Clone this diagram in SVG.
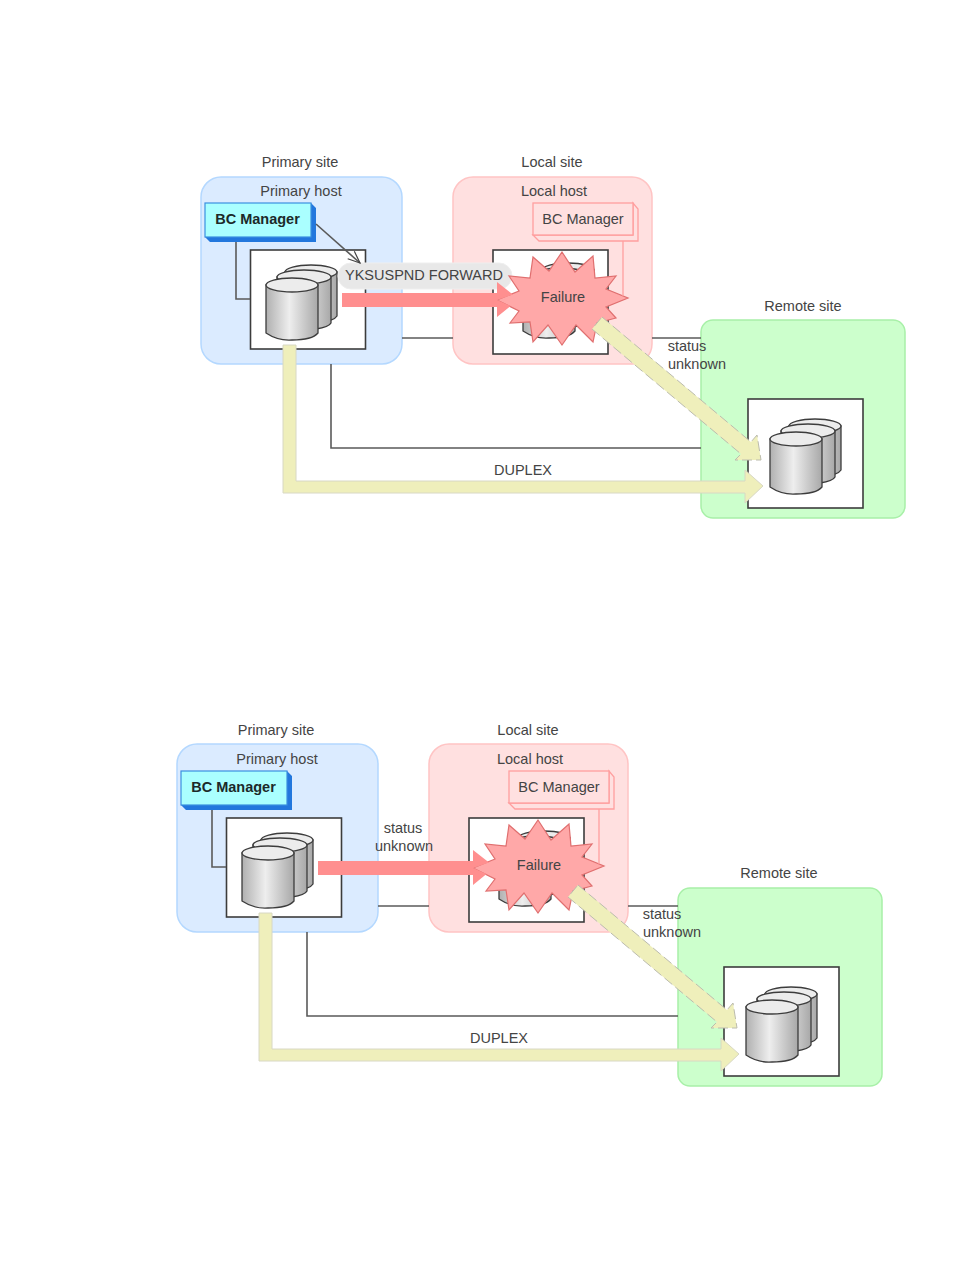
<svg xmlns="http://www.w3.org/2000/svg" width="954" height="1270" viewBox="0 0 954 1270">
  <style>
    text { font-family: "Liberation Sans", Arial, sans-serif; font-size: 14.5px; fill: #444; text-anchor: middle; }
    .bold { font-weight: bold; fill: #1c2a2a; }
    .primary-site { fill: #dbebff; stroke: #b4d8ff; stroke-width: 1.5; }
    .local-site { fill: #ffe0e0; stroke: #ffc4c4; stroke-width: 1.5; }
    .remote-site { fill: #ccffcc; stroke: #a8f0a8; stroke-width: 1.5; }
    .host { fill: #fff; stroke: #3c3c3c; stroke-width: 1.6; }
    .wire { fill: none; stroke: #5a5a5a; stroke-width: 1.6; }
    .pink-wire { fill: none; stroke: #ff9f9f; stroke-width: 1.3; }
    .pipe { fill: #efefbb; stroke: #d8d8c4; stroke-width: 1; }
    .pipe-lost { fill: #efefbb; stroke: #bcbcae; stroke-width: 1; stroke-dasharray: 10 4; }
    .suspended { fill: #ff8f8f; }
    .star { fill: #ffa8a8; stroke: #e06f6f; stroke-width: 1.2; }
    .pill { fill: #e8e8e8; stroke: #eeeeee; stroke-width: 1; }
    .can { fill: url(#canShade); stroke: #3c3c3c; stroke-width: 1.3; }
    .can-top { fill: #ececec; stroke: #3c3c3c; stroke-width: 1.3; }
    .bc-face { fill: #aaffff; stroke: #3a90e0; stroke-width: 1.2; }
    .bc-side { fill: #2277dd; }
    .bc-ghost { fill: #ffe0e0; stroke: #ff9f9f; stroke-width: 1.3; }
  </style>
  <defs>
    <linearGradient id="canShade" x1="0" x2="1" y1="0" y2="0">
      <stop offset="0" stop-color="#b0b0b0"/>
      <stop offset="0.45" stop-color="#eeeeee"/>
      <stop offset="1" stop-color="#a8a8a8"/>
    </linearGradient>
    <marker id="open" markerWidth="14" markerHeight="12" refX="13" refY="6" orient="auto" markerUnits="userSpaceOnUse">
      <path d="M1 1 L13 6 L1 11" fill="none" stroke="#444" stroke-width="1.2"/>
    </marker>
    <!-- Three stacked volumes, origin at the storage box corner -->
    <g id="volumes">
      <path class="can" d="M35 22 V65 Q48 73 70 72 Q84 71 87 66 V22 Z"/>
      <ellipse class="can-top" cx="61" cy="22" rx="26" ry="7"/>
      <path class="can" d="M27 27 V72 Q45 82 66 79 Q79 77 81 73 V27 Z"/>
      <ellipse class="can-top" cx="54" cy="27" rx="27" ry="7"/>
      <path class="can" d="M16 35 V83 Q28 91 42 90 Q62 90 68 83 V35 Z"/>
      <ellipse class="can-top" cx="42" cy="35" rx="26" ry="7"/>
    </g>
    <polygon id="burst" class="star" points="562,252 575,272 593,256 595,278 616,276 606,289 628,298 606,307 616,318 597,323 593,342 576,325 562,345 548,325 533,342 530,322 510,323 519,311 497,300 519,291 509,276 530,278 533,257 549,271"/>
  </defs>

  <g id="upper-scenario">
    <g id="primary-site-1">
      <rect class="primary-site" x="201" y="177" width="201" height="187" rx="20"/>
      <text x="300" y="167">Primary site</text>
      <text x="301" y="196">Primary host</text>
    </g>
    <g id="local-site-1">
      <rect class="local-site" x="453" y="177" width="199" height="187" rx="20"/>
      <text x="552" y="167">Local site</text>
      <text x="554" y="196">Local host</text>
    </g>
    <g id="remote-site-1">
      <rect class="remote-site" x="701" y="320" width="204" height="198" rx="12"/>
      <text x="803" y="311">Remote site</text>
    </g>
    <g id="primary-storage-1">
      <rect class="host" x="250.500" y="250" width="115" height="99"/>
      <use href="#volumes" x="250" y="250"/>
    </g>
    <g id="local-storage-1">
      <rect class="host" x="493" y="250" width="115" height="104"/>
      <use href="#volumes" x="507" y="248"/>
    </g>
    <g id="remote-storage-1">
      <rect class="host" x="748" y="399" width="115" height="109"/>
      <use href="#volumes" x="754" y="404"/>
    </g>
    <g id="bc-primary-1">
      <polygon class="bc-side" points="205,237 210,242 316,242 316,208 311,203 311,237"/>
      <rect class="bc-face" x="205" y="203" width="106" height="34"/>
      <text class="bold" x="257.500" y="224">BC Manager</text>
    </g>
    <g id="bc-local-1">
      <polygon class="bc-ghost" points="533,235 539,241 638,241 638,209 633,203 633,235"/>
      <rect class="bc-ghost" x="533" y="203" width="100" height="32"/>
      <text x="583" y="224">BC Manager</text>
    </g>
    <g id="forward-label">
      <rect class="pill" x="338" y="263" width="174" height="26" rx="13"/>
      <text x="424" y="279.500">YKSUSPND FORWARD</text>
    </g>
    <g id="failure-1">
      <use href="#burst"/>
      <text x="563" y="302">Failure</text>
    </g>
    <g id="connectors-1">
      <path class="wire" d="M236 242 V299 H250"/>
      <path class="wire" d="M316 224 L360 263" marker-end="url(#open)" stroke-width="1.1"/>
      <path class="wire" d="M402 338 H453"/>
      <path class="wire" d="M652 338 H701"/>
      <path class="wire" d="M331 364 V448 H701"/>
      <path class="pink-wire" d="M623 241 V296"/>
      <polygon class="suspended" points="342,293 497,293 497,282 513,294.600 497,300 510.500,306 497,317 497,307 342,307"/>
      <polygon class="pipe" points="283,345 296,345 296,481 745,481 745,470 763,486 745,503 745,493 283,493"/>
      <polygon class="pipe-lost" points="602,317 751,442 757,435 761,460 735,460 741,454 592,329"/>
    </g>
    <text x="523" y="475">DUPLEX</text>
    <text x="687" y="351">status</text>
    <text x="697" y="369">unknown</text>
  </g>

  <g id="lower-scenario" transform="translate(-24 568)">
    <g id="primary-site-2">
      <rect class="primary-site" x="201" y="176" width="201" height="188" rx="20"/>
      <text x="300" y="167">Primary site</text>
      <text x="301" y="196">Primary host</text>
    </g>
    <g id="local-site-2">
      <rect class="local-site" x="453" y="176" width="199" height="188" rx="20"/>
      <text x="552" y="167">Local site</text>
      <text x="554" y="196">Local host</text>
    </g>
    <g id="remote-site-2">
      <rect class="remote-site" x="702" y="320" width="204" height="198" rx="12"/>
      <text x="803" y="310">Remote site</text>
    </g>
    <g id="primary-storage-2">
      <rect class="host" x="250.500" y="250" width="115" height="99"/>
      <use href="#volumes" x="250" y="250"/>
    </g>
    <g id="local-storage-2">
      <rect class="host" x="493" y="250" width="115" height="104"/>
      <use href="#volumes" x="507" y="248"/>
    </g>
    <g id="remote-storage-2">
      <rect class="host" x="748" y="399" width="115" height="109"/>
      <use href="#volumes" x="754" y="404"/>
    </g>
    <g id="bc-primary-2">
      <polygon class="bc-side" points="205,237 210,242 316,242 316,208 311,203 311,237"/>
      <rect class="bc-face" x="205" y="203" width="106" height="34"/>
      <text class="bold" x="257.500" y="224">BC Manager</text>
    </g>
    <g id="bc-local-2">
      <polygon class="bc-ghost" points="533,235 539,241 638,241 638,209 633,203 633,235"/>
      <rect class="bc-ghost" x="533" y="203" width="100" height="32"/>
      <text x="583" y="224">BC Manager</text>
    </g>
    <g id="failure-2">
      <use href="#burst"/>
      <text x="563" y="302">Failure</text>
    </g>
    <g id="connectors-2">
      <path class="wire" d="M236 242 V299 H250"/>
      <path class="wire" d="M402 338 H453"/>
      <path class="wire" d="M652 338 H702"/>
      <path class="wire" d="M331 364 V448 H702"/>
      <path class="pink-wire" d="M623 241 V296"/>
      <polygon class="suspended" points="342,293 497,293 497,282 513,294.600 497,300 510.500,306 497,317 497,307 342,307"/>
      <polygon class="pipe" points="283,345 296,345 296,481 745,481 745,470 763,486 745,503 745,493 283,493"/>
      <polygon class="pipe-lost" points="602,317 751,442 757,435 761,460 735,460 741,454 592,329"/>
    </g>
    <text x="523" y="475">DUPLEX</text>
    <text x="427" y="265">status</text>
    <text x="428" y="283">unknown</text>
    <text x="686" y="351">status</text>
    <text x="696" y="369">unknown</text>
  </g>
</svg>
